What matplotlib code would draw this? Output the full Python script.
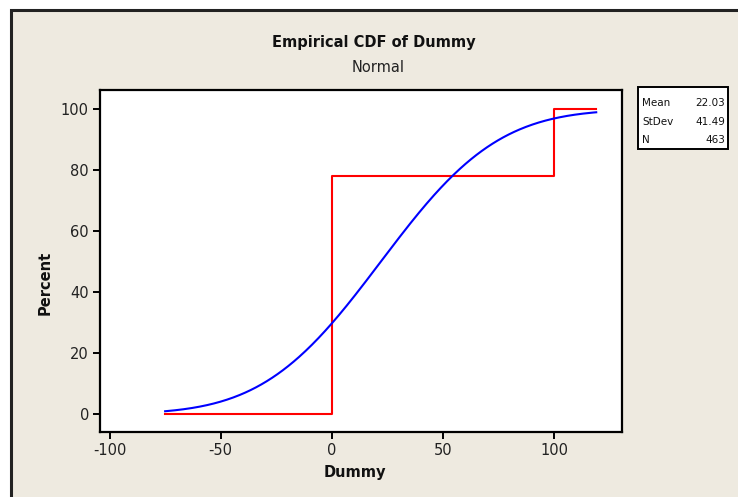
import math
import numpy as np
import matplotlib
matplotlib.use("Agg")
import matplotlib.pyplot as plt
from matplotlib.patches import Rectangle

plt.rcParams["axes.unicode_minus"] = False

# ---- data ----
title = "Empirical CDF of Dummy"
subtitle = "Normal"
x_label = "Dummy"
y_label = "Percent"
x_ticks = [-100, -50, 0, 50, 100]
y_ticks = [0, 20, 40, 60, 80, 100]

# empirical CDF steps (Dummy value, cumulative percent)
ecdf_x = [-75, 0, 100, 119]
ecdf_pct = [0, 78, 100, 100]

# fitted normal distribution statistics (legend box)
stat_names = ["Mean", "StDev", "N"]
stat_values = ["22.03", "41.49", "463"]
fit_mean = 22.03
fit_sd = 41.49
fit_range = (-75, 119)

# ---- figure ----
W, H = 738, 497
fig = plt.figure(figsize=(W / 100, H / 100), dpi=100)
fig.patch.set_facecolor("white")
beige = "#EEEAE0"

def fx(px):
    return px / W

def fy(py):
    return 1 - py / H

fig.patches.append(Rectangle((fx(11), fy(H + 20)), fx(W + 20), fy(10) - fy(H + 20),
                             transform=fig.transFigure, facecolor=beige,
                             edgecolor="#222222", linewidth=2.2, zorder=0))

ax = fig.add_axes([fx(100), fy(432), fx(622) - fx(100), fy(89.5) - fy(432)])
ax.set_zorder(5)
ax.set_facecolor("white")
for s in ax.spines.values():
    s.set_linewidth(1.6)
    s.set_color("black")

# fitted normal CDF drawn from the displayed Mean / StDev
xs = np.linspace(fit_range[0], fit_range[1], 400)
cdf = np.array([50 * (1 + math.erf((v - fit_mean) / (fit_sd * math.sqrt(2)))) for v in xs])
ax.plot(xs, cdf, color="#0000FF", linewidth=1.5, zorder=3)

ax.step(ecdf_x, ecdf_pct, where="post", color="#FF0000", linewidth=1.5, zorder=2)

ax.set_xlim(-104.3, 130.6)
ax.set_ylim(-5.84, 106.5)
ax.set_xticks(x_ticks)
ax.set_yticks(y_ticks)
ax.set_xticklabels([str(v) for v in x_ticks])
ax.set_yticklabels([str(v) for v in y_ticks])
ax.tick_params(direction="out", length=5, width=1.4, labelsize=10.5, pad=3,
               colors="black")
for lab in ax.get_xticklabels() + ax.get_yticklabels():
    lab.set_color("#222222")

fig.text(fx(374), fy(42), title, ha="center", va="center",
         fontsize=10.5, fontweight="bold", color="#111111")
fig.text(fx(378), fy(67), subtitle, ha="center", va="center",
         fontsize=10.5, color="#222222")
fig.text(fx(355), fy(473), x_label, ha="center", va="center",
         fontsize=10.5, fontweight="bold", color="#111111")
fig.text(fx(45), fy(283), y_label, ha="center", va="center", rotation=90,
         fontsize=10.5, fontweight="bold", color="#111111")

# legend / statistics box
fig.patches.append(Rectangle((fx(638), fy(149)), fx(728) - fx(638), fy(87) - fy(149),
                             transform=fig.transFigure, facecolor="white",
                             edgecolor="black", linewidth=1.4, zorder=1))
row_y = [103, 122, 140]
for name, val, ry in zip(stat_names, stat_values, row_y):
    fig.text(fx(642), fy(ry), name, ha="left", va="center", fontsize=7.5, color="#111111")
    fig.text(fx(725), fy(ry), val, ha="right", va="center", fontsize=7.5, color="#111111")

fig.savefig("out.png", dpi=100, facecolor=fig.get_facecolor())
